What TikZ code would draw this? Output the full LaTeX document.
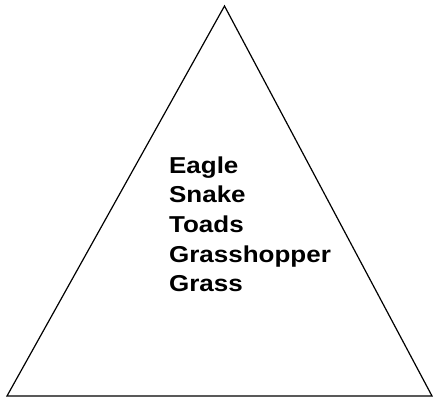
\documentclass[tikz,border=0pt]{standalone}
\usepackage{fontspec}
\setmainfont{Liberation Sans}
\newfontfamily\chainfont[FakeStretch=1.13]{Liberation Sans}
\usetikzlibrary{positioning}

\begin{document}
\begin{tikzpicture}[x=1pt, y=1pt, line width=1.2pt]
		% Frame of the picture
		\useasboundingbox (0,0) rectangle (439,399);
		
		% Corners of the pyramid
		\coordinate (Left) at (7,3);
		\coordinate (Right) at (432,3);
		\coordinate (Top) at (224.5,393);
		
		% Pyramid
		\draw[line join=miter] (Left) -- (Right) -- (Top) -- cycle;
		
		% Food chain levels (base = baseline of the last line)
		\node[anchor=base west, align=left, inner sep=0pt,
			font=\chainfont\fontsize{23}{29.7}\selectfont\bfseries] (chain) at (168.5,107)
			{Eagle\\Snake\\Toads\\Grasshopper\\Grass};
\end{tikzpicture}
\end{document}
